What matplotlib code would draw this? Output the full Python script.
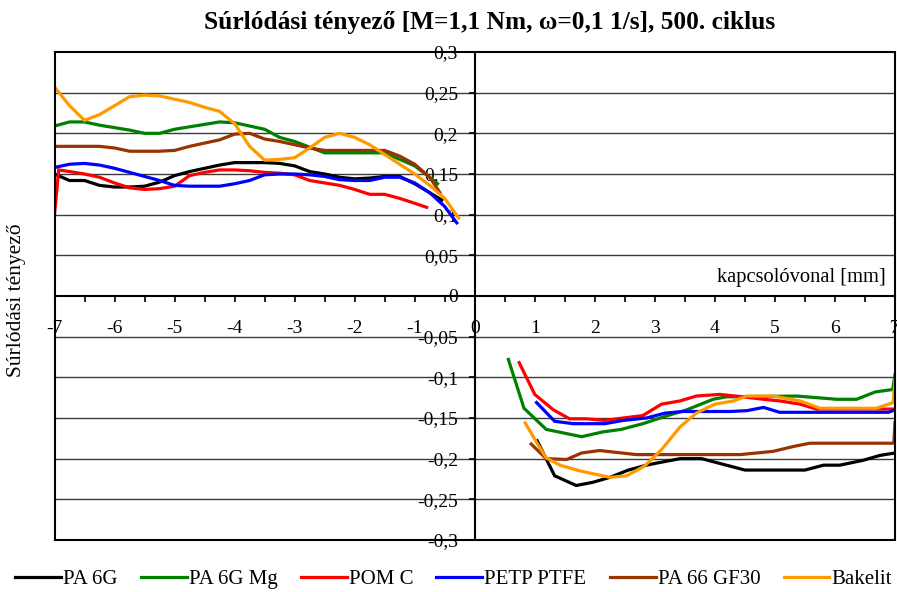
import matplotlib
matplotlib.use("Agg")
import matplotlib.pyplot as plt
import numpy as np
from matplotlib.patches import Rectangle
from matplotlib.ticker import MultipleLocator, FuncFormatter

plt.rcParams['font.family'] = ['Liberation Serif', 'DejaVu Serif']

series_names = ["PA 6G", "PA 6G Mg", "POM C", "PETP PTFE", "PA 66 GF30", "Bakelit"]
series_colors = ["#000000", "#008000", "#FF0000", "#0000FF", "#993300", "#FF9900"]

# ---- left half (x < 0) ----
x_left_grid = [-7, -6.75, -6.5, -6.25, -6, -5.75, -5.5, -5.25, -5, -4.75, -4.5, -4.25, -4,
               -3.75, -3.5, -3.25, -3, -2.75, -2.5, -2.25, -2, -1.75, -1.5, -1.25, -1, -0.75]

pa6g_left_x = x_left_grid + [-0.55]
pa6g_left_y = [0.150, 0.142, 0.142, 0.136, 0.134, 0.134, 0.135, 0.140, 0.148, 0.153, 0.157, 0.161, 0.164,
               0.164, 0.164, 0.163, 0.160, 0.153, 0.150, 0.146, 0.144, 0.145, 0.147, 0.147, 0.138, 0.127, 0.118]

pa6gmg_left_x = x_left_grid + [-0.62]
pa6gmg_left_y = [0.209, 0.214, 0.214, 0.210, 0.207, 0.204, 0.200, 0.200, 0.205, 0.208, 0.211, 0.214, 0.213,
                 0.209, 0.205, 0.195, 0.190, 0.183, 0.176, 0.176, 0.176, 0.176, 0.176, 0.168, 0.160, 0.146, 0.138]

pomc_left_x = [-7, -6.93, -6.75, -6.5, -6.25, -6, -5.75, -5.5, -5.25, -5, -4.75, -4.5, -4.25, -4,
               -3.75, -3.5, -3.25, -3, -2.75, -2.5, -2.25, -2, -1.75, -1.5, -1.25, -1, -0.8]
pomc_left_y = [0.100, 0.155, 0.153, 0.150, 0.146, 0.139, 0.133, 0.131, 0.132, 0.135, 0.148, 0.152, 0.155, 0.155,
               0.154, 0.152, 0.151, 0.149, 0.142, 0.139, 0.136, 0.131, 0.125, 0.125, 0.120, 0.114, 0.109]

petp_left_x = x_left_grid + [-0.5, -0.3]
petp_left_y = [0.158, 0.162, 0.163, 0.161, 0.157, 0.152, 0.147, 0.142, 0.136, 0.135, 0.135, 0.135, 0.138,
               0.142, 0.149, 0.150, 0.150, 0.149, 0.147, 0.143, 0.142, 0.142, 0.146, 0.146, 0.139, 0.127, 0.110, 0.090]

pa66_left_x = x_left_grid + [-0.58]
pa66_left_y = [0.184, 0.184, 0.184, 0.184, 0.182, 0.178, 0.178, 0.178, 0.179, 0.184, 0.188, 0.192, 0.199,
               0.200, 0.193, 0.190, 0.186, 0.182, 0.179, 0.179, 0.179, 0.179, 0.179, 0.172, 0.162, 0.146, 0.127]

bakelit_left_x = x_left_grid + [-0.5, -0.27]
bakelit_left_y = [0.257, 0.234, 0.216, 0.223, 0.234, 0.245, 0.247, 0.246, 0.242, 0.238, 0.232, 0.227, 0.212,
                  0.184, 0.167, 0.168, 0.170, 0.182, 0.195, 0.200, 0.195, 0.186, 0.174, 0.162, 0.150, 0.136, 0.120, 0.096]

# ---- right half (x > 0) ----
pa6g_right_x = [1.04, 1.33, 1.69, 1.97, 2.25, 2.56, 2.86, 3.06, 3.42, 3.78, 4.14, 4.5, 5.5, 5.81, 6.08, 6.47, 6.75, 7.0]
pa6g_right_y = [-0.178, -0.221, -0.233, -0.229, -0.223, -0.214, -0.208, -0.205, -0.200, -0.200, -0.207, -0.214,
                -0.214, -0.208, -0.208, -0.202, -0.196, -0.193]

pa6gmg_right_x = [0.56, 0.82, 1.19, 1.78, 2.14, 2.44, 2.8, 3.17, 3.53, 3.97, 4.19, 5.36, 6.03, 6.36, 6.67, 6.96, 7.0]
pa6gmg_right_y = [-0.078, -0.138, -0.164, -0.173, -0.167, -0.164, -0.157, -0.148, -0.140, -0.127, -0.124, -0.123,
                  -0.127, -0.127, -0.118, -0.115, -0.097]

pomc_right_x = [0.74, 1.0, 1.31, 1.58, 1.86, 2.17, 2.47, 2.8, 3.11, 3.42, 3.69, 4.08, 4.47, 4.81, 5.08, 5.42, 5.69, 7.0]
pomc_right_y = [-0.082, -0.121, -0.140, -0.151, -0.151, -0.153, -0.150, -0.147, -0.133, -0.129, -0.123, -0.121,
                -0.124, -0.127, -0.129, -0.133, -0.139, -0.139]

petp_right_x = [1.03, 1.33, 1.64, 2.17, 2.47, 2.86, 3.17, 3.47, 4.25, 4.53, 4.81, 5.08, 6.89, 7.0]
petp_right_y = [-0.131, -0.154, -0.157, -0.157, -0.153, -0.150, -0.144, -0.142, -0.142, -0.141, -0.137, -0.143,
                -0.143, -0.140]

pa66_right_x = [0.94, 1.19, 1.53, 1.78, 2.08, 2.69, 4.42, 4.97, 5.31, 5.58, 6.98, 7.0]
pa66_right_y = [-0.182, -0.200, -0.201, -0.193, -0.190, -0.195, -0.195, -0.191, -0.185, -0.181, -0.181, -0.156]

bakelit_right_x = [0.84, 1.03, 1.19, 1.42, 1.75, 2.25, 2.53, 2.83, 3.11, 3.42, 3.69, 4.0, 4.31, 4.53, 4.97,
                   5.42, 5.75, 6.69, 6.97, 7.0]
bakelit_right_y = [-0.156, -0.180, -0.199, -0.208, -0.215, -0.223, -0.221, -0.209, -0.189, -0.161, -0.144, -0.133,
                   -0.129, -0.123, -0.123, -0.129, -0.138, -0.138, -0.131, -0.103]

left_data = [(pa6g_left_x, pa6g_left_y), (pa6gmg_left_x, pa6gmg_left_y), (pomc_left_x, pomc_left_y),
             (petp_left_x, petp_left_y), (pa66_left_x, pa66_left_y), (bakelit_left_x, bakelit_left_y)]
right_data = [(pa6g_right_x, pa6g_right_y), (pa6gmg_right_x, pa6gmg_right_y), (pomc_right_x, pomc_right_y),
              (petp_right_x, petp_right_y), (pa66_right_x, pa66_right_y), (bakelit_right_x, bakelit_right_y)]

title_text = "Súrlódási tényező [M=1,1 Nm, ω=0,1 1/s], 500. ciklus"
ylabel_text = "Súrlódási tényező"
xlabel_text = "kapcsolóvonal [mm]"

fig = plt.figure(figsize=(8.97, 5.92), dpi=100)
ax = fig.add_axes([54.5 / 897, 52 / 592, 840.5 / 897, 488 / 592])
ax.set_xlim(-7, 7)
ax.set_ylim(-0.3, 0.3)

# horizontal gridlines
for gy in np.arange(-0.25, 0.26, 0.05):
    if abs(gy) > 1e-9:
        ax.axhline(gy, color="#3a3a3a", lw=1.0, zorder=1)

handles = []
for (lx, ly), (rx, ry), name, col in zip(left_data, right_data, series_names, series_colors):
    h, = ax.plot(lx, ly, color=col, lw=2.3, label=name, zorder=3, solid_joinstyle='miter')
    ax.plot(rx, ry, color=col, lw=2.3, zorder=3, solid_joinstyle='miter')
    handles.append(h)

# axes through origin
ax.spines['left'].set_position(('data', 0))
ax.spines['bottom'].set_position(('data', 0))
ax.spines['right'].set_visible(False)
ax.spines['top'].set_visible(False)
for s in ('left', 'bottom'):
    ax.spines[s].set_linewidth(1.5)
    ax.spines[s].set_zorder(4)
ax.add_patch(Rectangle((0, 0), 1, 1, transform=ax.transAxes, fill=False, ec='black', lw=1.5,
                       clip_on=False, zorder=5))

ax.xaxis.set_major_locator(MultipleLocator(1))
ax.xaxis.set_minor_locator(MultipleLocator(0.5))
ax.yaxis.set_major_locator(MultipleLocator(0.05))
ax.xaxis.set_major_formatter(FuncFormatter(lambda v, p: "0" if abs(v) < 1e-9 else f"{v:.0f}"))

def yfmt(v, p):
    if abs(v) < 1e-9:
        return "0"
    s = f"{v:.2f}".rstrip("0")
    return s.replace(".", ",")

ax.yaxis.set_major_formatter(FuncFormatter(yfmt))
ax.tick_params(axis='x', which='both', direction='out', length=4, width=1.2, labelsize=14, pad=13)
ax.tick_params(axis='y', which='both', direction='out', length=4, width=1.2, labelsize=14, pad=8)

ax.text(6.85, 0.011, xlabel_text, ha='right', va='bottom', fontsize=14.8)
fig.text(17 / 897, 1 - 300 / 592, ylabel_text, rotation=90, ha='center', va='center', fontsize=15.5)
fig.text(490 / 897, 1 - 22 / 592, title_text, ha='center', va='center', fontsize=18.3, fontweight='bold')

fig.legend(handles=handles, loc='center', bbox_to_anchor=(453.5 / 897, 1 - 579 / 592), ncol=6, frameon=False,
           fontsize=15, handlelength=2.2, handletextpad=0.1, columnspacing=1.12, borderaxespad=0)

fig.savefig("out.png", dpi=100)
